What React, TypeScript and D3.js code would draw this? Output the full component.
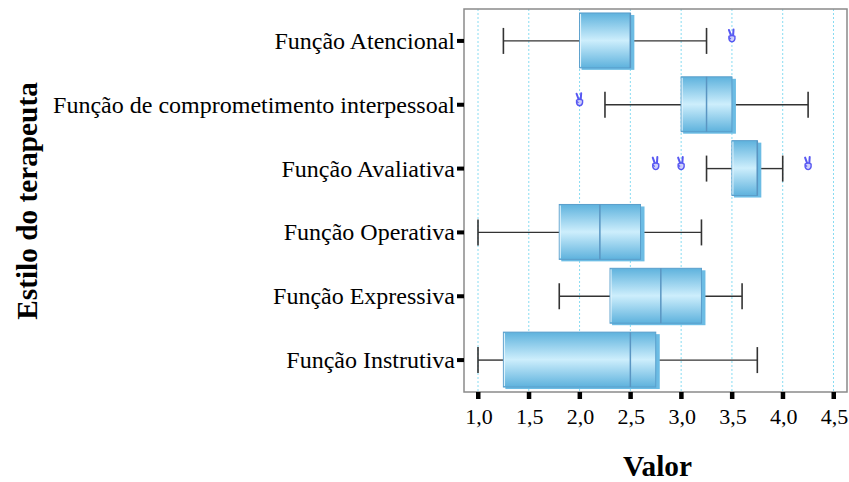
import React from "react";
import * as d3 from "d3";

const categories = [
  "Função Atencional",
  "Função de comprometimento interpessoal",
  "Função Avaliativa",
  "Função Operativa",
  "Função Expressiva",
  "Função Instrutiva",
];
const whiskerLow = [1.25, 2.25, 3.25, 1.0, 1.8, 1.0];
const q1 = [2.0, 3.0, 3.5, 1.8, 2.3, 1.25];
const median = [2.5, 3.25, 3.75, 2.2, 2.8, 2.5];
const q3 = [2.5, 3.5, 3.75, 2.6, 3.2, 2.75];
const whiskerHigh = [3.25, 4.25, 4.0, 3.2, 3.6, 3.75];
const outliers: number[][] = [[3.5], [2.0], [2.75, 3.0, 4.25], [], [], []];
const xTicks = [1.0, 1.5, 2.0, 2.5, 3.0, 3.5, 4.0, 4.5];
const xTitle = "Valor";
const yTitle = "Estilo do terapeuta";

const W = 849;
const H = 482;
const frame = { left: 464, top: 9, right: 847, bottom: 392 };
const serif = "'Liberation Serif', 'Times New Roman', serif";

// small "victory hand" marker used for outliers
function HandMarker({ cx, cy }: { cx: number; cy: number }) {
  return (
    <g transform={`translate(${cx},${cy})`} opacity={0.85}>
      <path
        d="M-1,-0.5 L-3,-6 M1.2,-0.5 L1.6,-6.5"
        stroke="#3c3cf0"
        strokeWidth={2}
        strokeLinecap="round"
        fill="none"
      />
      <path
        d="M-3,0.5 Q-3.5,5.5 0,6 Q3.5,5.5 3,0.5 Q0,-1.5 -3,0.5 Z"
        stroke="#3c3cf0"
        strokeWidth={1.4}
        fill="#c9c9fb"
      />
      <path d="M-3,1.5 L-1,3" stroke="#3c3cf0" strokeWidth={1.2} fill="none" />
    </g>
  );
}

export default function App() {
  const x = d3.scaleLinear().domain([1, 4.5]).range([478, 833.5]);
  const y = d3
    .scaleBand<string>()
    .domain(categories)
    .range([frame.top, frame.bottom])
    .paddingInner(0)
    .paddingOuter(0);
  const bw = y.bandwidth();
  const boxH = bw * 0.86;
  const capH = 26;
  const fmt = (v: number) => d3.format(".1f")(v).replace(".", ",");

  return (
    <svg
      width={W}
      height={H}
      style={{ position: "absolute", left: 0, top: 0, background: "#fff" }}
    >
      <defs>
        <linearGradient id="boxGrad" x1="0" y1="0" x2="0" y2="1">
          <stop offset="0%" stopColor="#5eb2dd" />
          <stop offset="50%" stopColor="#cdeefc" />
          <stop offset="100%" stopColor="#5eb2dd" />
        </linearGradient>
      </defs>

      {/* grid lines */}
      {xTicks.map((t) => (
        <line
          key={"g" + t}
          x1={x(t)}
          x2={x(t)}
          y1={frame.top}
          y2={frame.bottom}
          stroke="#88dcf2"
          strokeWidth={1}
          strokeDasharray="2,2"
        />
      ))}

      {/* boxes */}
      {categories.map((c, i) => {
        const cy = (y(c) as number) + bw / 2;
        const top = cy - boxH / 2 - 0.5;
        const x1 = x(q1[i]);
        const x3 = x(q3[i]);
        return (
          <g key={c}>
            <line
              x1={x(whiskerLow[i])}
              x2={x1}
              y1={cy}
              y2={cy}
              stroke="#333"
              strokeWidth={1.4}
            />
            <line
              x1={x3}
              x2={x(whiskerHigh[i])}
              y1={cy}
              y2={cy}
              stroke="#333"
              strokeWidth={1.4}
            />
            <line
              x1={x(whiskerLow[i])}
              x2={x(whiskerLow[i])}
              y1={cy - capH / 2}
              y2={cy + capH / 2}
              stroke="#333"
              strokeWidth={1.6}
            />
            <line
              x1={x(whiskerHigh[i])}
              x2={x(whiskerHigh[i])}
              y1={cy - capH / 2}
              y2={cy + capH / 2}
              stroke="#333"
              strokeWidth={1.6}
            />
            <rect
              x={x1 + 2}
              y={top + 2}
              width={x3 - x1 + 2}
              height={boxH}
              fill="#6cbce4"
            />
            <rect
              x={x1}
              y={top}
              width={x3 - x1}
              height={boxH}
              fill="url(#boxGrad)"
              stroke="#5a9ecb"
              strokeWidth={1}
            />
            <line
              x1={x1 + 1}
              x2={x1 + 1}
              y1={top + 1}
              y2={top + boxH - 1}
              stroke="#e6f6fd"
              strokeWidth={1}
            />
            <line
              x1={x(median[i])}
              x2={x(median[i])}
              y1={top}
              y2={top + boxH}
              stroke="#5a95c2"
              strokeWidth={1.5}
            />
            {outliers[i].map((o, j) => (
              <HandMarker key={j} cx={x(o)} cy={cy - 5} />
            ))}
          </g>
        );
      })}

      {/* frame */}
      <rect
        x={frame.left}
        y={frame.top}
        width={frame.right - frame.left}
        height={frame.bottom - frame.top}
        fill="none"
        stroke="#8a8a8a"
        strokeWidth={1.5}
      />

      {/* y ticks and labels */}
      {categories.map((c) => {
        const cy = (y(c) as number) + bw / 2;
        return (
          <g key={"yl" + c}>
            <rect x={457} y={cy - 2} width={7} height={4} fill="#000" />
            <text
              x={455}
              y={cy + 8}
              textAnchor="end"
              fontSize={24}
              fontFamily={serif}
              fill="#000"
            >
              {c}
            </text>
          </g>
        );
      })}

      {/* x ticks and labels */}
      {xTicks.map((t) => (
        <g key={"xt" + t}>
          <rect x={x(t) - 2} y={frame.bottom} width={4.5} height={7} fill="#000" />
          <text
            x={x(t) + 1}
            y={424}
            textAnchor="middle"
            fontSize={22}
            fontFamily={serif}
            fill="#000"
          >
            {fmt(t)}
          </text>
        </g>
      ))}

      {/* titles */}
      <text
        x={(frame.left + frame.right) / 2 + 2}
        y={476}
        textAnchor="middle"
        fontSize={29.3}
        fontWeight="bold"
        fontFamily={serif}
        fill="#000"
      >
        {xTitle}
      </text>
      <text
        transform={`translate(37, 201) rotate(-90)`}
        textAnchor="middle"
        fontSize={29.3}
        fontWeight="bold"
        fontFamily={serif}
        fill="#000"
      >
        {yTitle}
      </text>
    </svg>
  );
}
